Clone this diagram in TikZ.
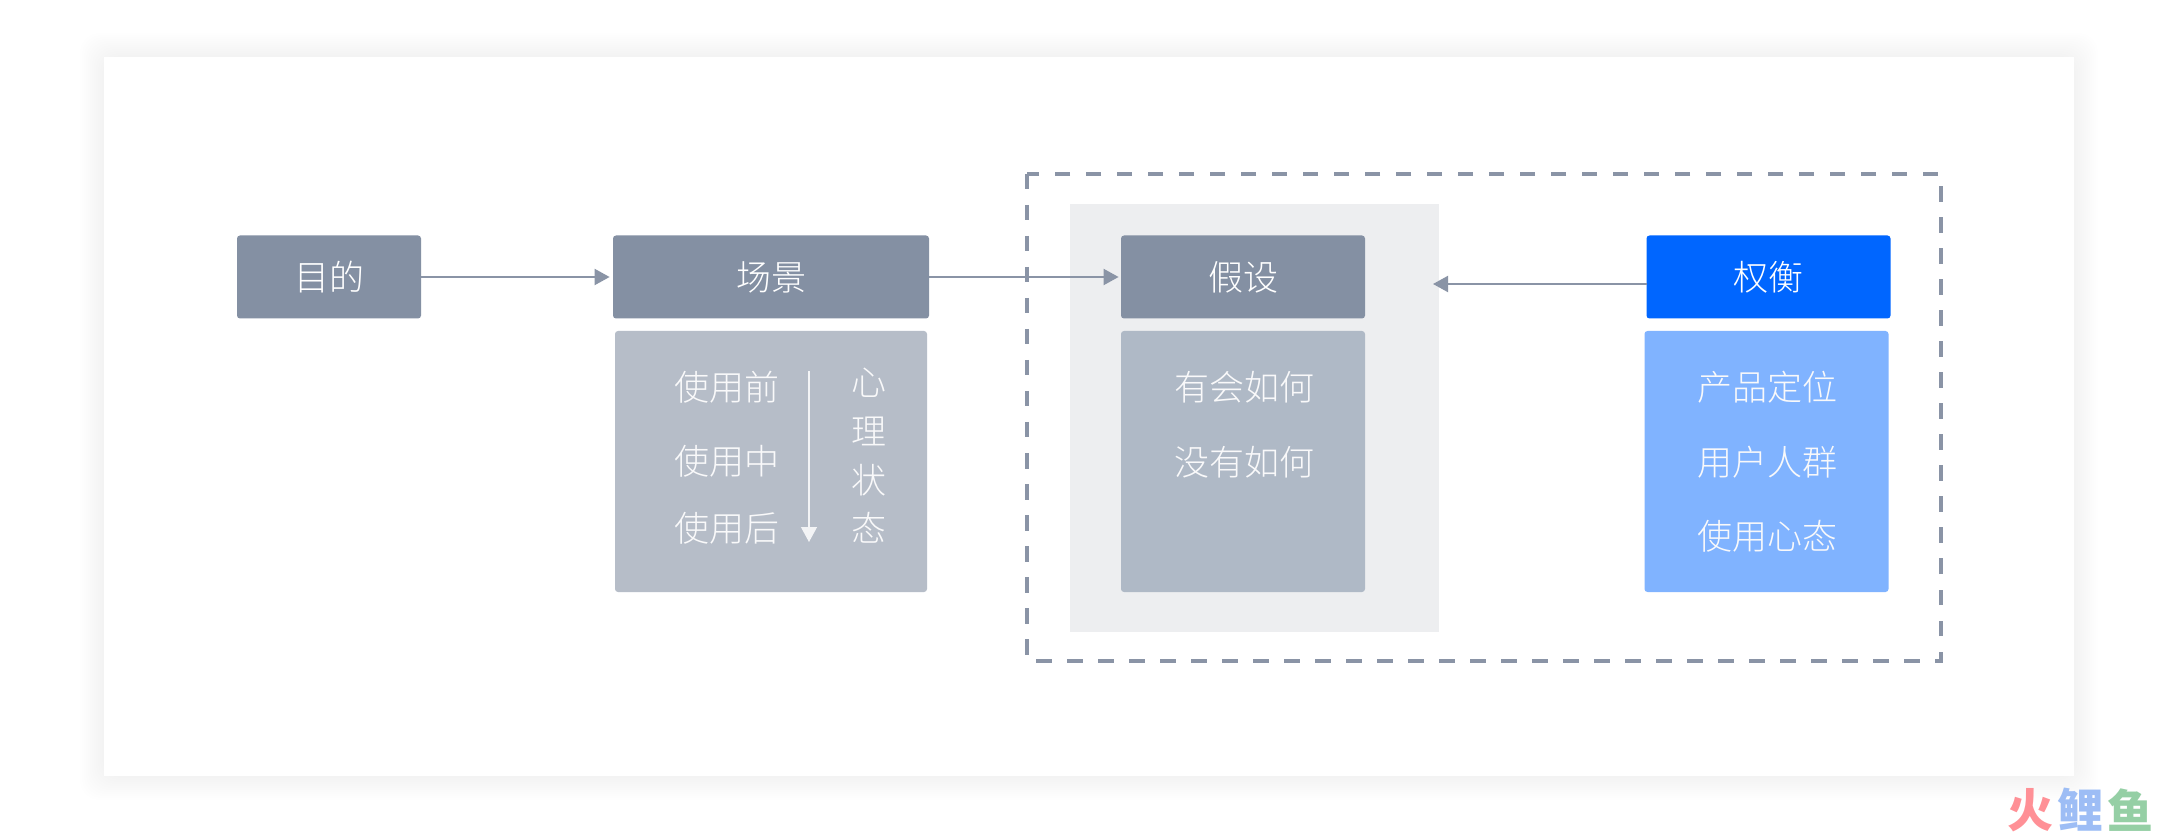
\documentclass[tikz,border=0pt]{standalone}
\usepackage{fontspec}
\usetikzlibrary{arrows.meta}
\newfontfamily\cjk{Noto Sans CJK SC Light}
\newfontfamily\cjkbold{Noto Sans CJK SC Black}
\definecolor{headgray}{HTML}{8490A3}
\definecolor{linegray}{HTML}{8A94A6}
\definecolor{scenebody}{HTML}{B6BDC8}
\definecolor{guessbody}{HTML}{AFB9C6}
\definecolor{panelgray}{HTML}{EDEEF0}
\definecolor{tradeblue}{HTML}{0066FF}
\definecolor{tradebody}{HTML}{80B3FF}
\definecolor{logored}{HTML}{FF9096}
\definecolor{logoblue}{HTML}{9DBDF5}
\definecolor{logogreen}{HTML}{95CFA5}
\tikzset{
	headbox/.style={fill=headgray,rounded corners=1.5pt,inner sep=0pt,minimum height=41.5pt,text=white,font=\cjk\fontsize{17.5}{17.5}\selectfont},
	bodybox/.style={rounded corners=1.5pt,inner sep=0pt,minimum width=122pt,minimum height=130.5pt},
	bodytext/.style={inner sep=0pt,text=white!95!headgray,font=\cjk\fontsize{17.5}{17.5}\selectfont},
	logotext/.style={inner sep=0pt,font=\cjkbold\fontsize{23}{23}\selectfont},
	flow/.style={draw=linegray,line width=1pt,shorten >=1.5pt,-{Triangle[length=7.5pt,width=8pt]}},
}
\begin{document}
\begin{tikzpicture}[x=0.5pt,y=-0.5pt]
	\useasboundingbox (0,0) rectangle (2176,834);
	% card with its soft shadow
	\foreach \s in {2,4,...,24}
		\fill[black,opacity=0.004,rounded corners=10pt] (104-\s,57-\s) rectangle (2074+\s,776+\s);
	\fill[white] (104,57) rectangle (2074,776);
	\draw[linegray,line width=1.75pt,dash pattern=on 7.75pt off 7.75pt] (1027,174) rectangle (1941,661);
	\node[fill=panelgray,inner sep=0pt,minimum width=184.5pt,minimum height=214pt] (panel) at (1254.5,418) {};
	% heads
	\node[headbox,minimum width=92pt] (goal) at (329,277) {目的};
	\node[headbox,minimum width=158pt] (scene) at (771,277) {场景};
	\node[headbox,minimum width=122pt] (guess) at (1243,277) {假设};
	\node[headbox,minimum width=122pt,fill=tradeblue] (trade) at (1768.5,277) {权衡};
	% bodies
	\node[bodybox,fill=scenebody,minimum width=156pt] (scenebox) at (771,461.5) {};
	\node[bodybox,fill=guessbody] (guessbox) at (1243,461.5) {};
	\node[bodybox,fill=tradebody] (tradebox) at (1766.5,461.5) {};
	\node[bodytext] (before) at (727,387) {使用前};
	\node[bodytext] (during) at (727,461) {使用中};
	\node[bodytext] (after) at (727,528) {使用后};
	\node[bodytext] (mind1) at (869,383) {心};
	\node[bodytext] (mind2) at (869,431) {理};
	\node[bodytext] (mind3) at (869,480) {状};
	\node[bodytext] (mind4) at (869,528) {态};
	\node[bodytext] (have) at (1244,387) {有会如何};
	\node[bodytext] (without) at (1244,462) {没有如何};
	\node[bodytext] (product) at (1767,387) {产品定位};
	\node[bodytext] (crowd) at (1767,462) {用户人群};
	\node[bodytext] (usemind) at (1767,536) {使用心态};
	% connectors
	\coordinate (timetop) at (809,371);
	\coordinate (timeend) at (809,542);
	\coordinate (backstart) at (1647,284);
	\coordinate (backend) at (1433,284);
	\draw[flow] (goal) -- (scene);
	\draw[flow,shorten >=1pt] (scene) -- (guess);
	\draw[flow,shorten >=0pt] (backstart) -- (backend);
	\draw[flow,shorten >=0pt,draw=white!90!headgray,fill=white!90!headgray,line width=0.6pt] (timetop) -- (timeend);
	% logo
	\node[logotext,text=logored] (fire) at (2030,810) {火};
	\node[logotext,text=logoblue] (carp) at (2080,810) {鲤};
	\node[logotext,text=logogreen] (fish) at (2130,810) {鱼};
\end{tikzpicture}
\end{document}
